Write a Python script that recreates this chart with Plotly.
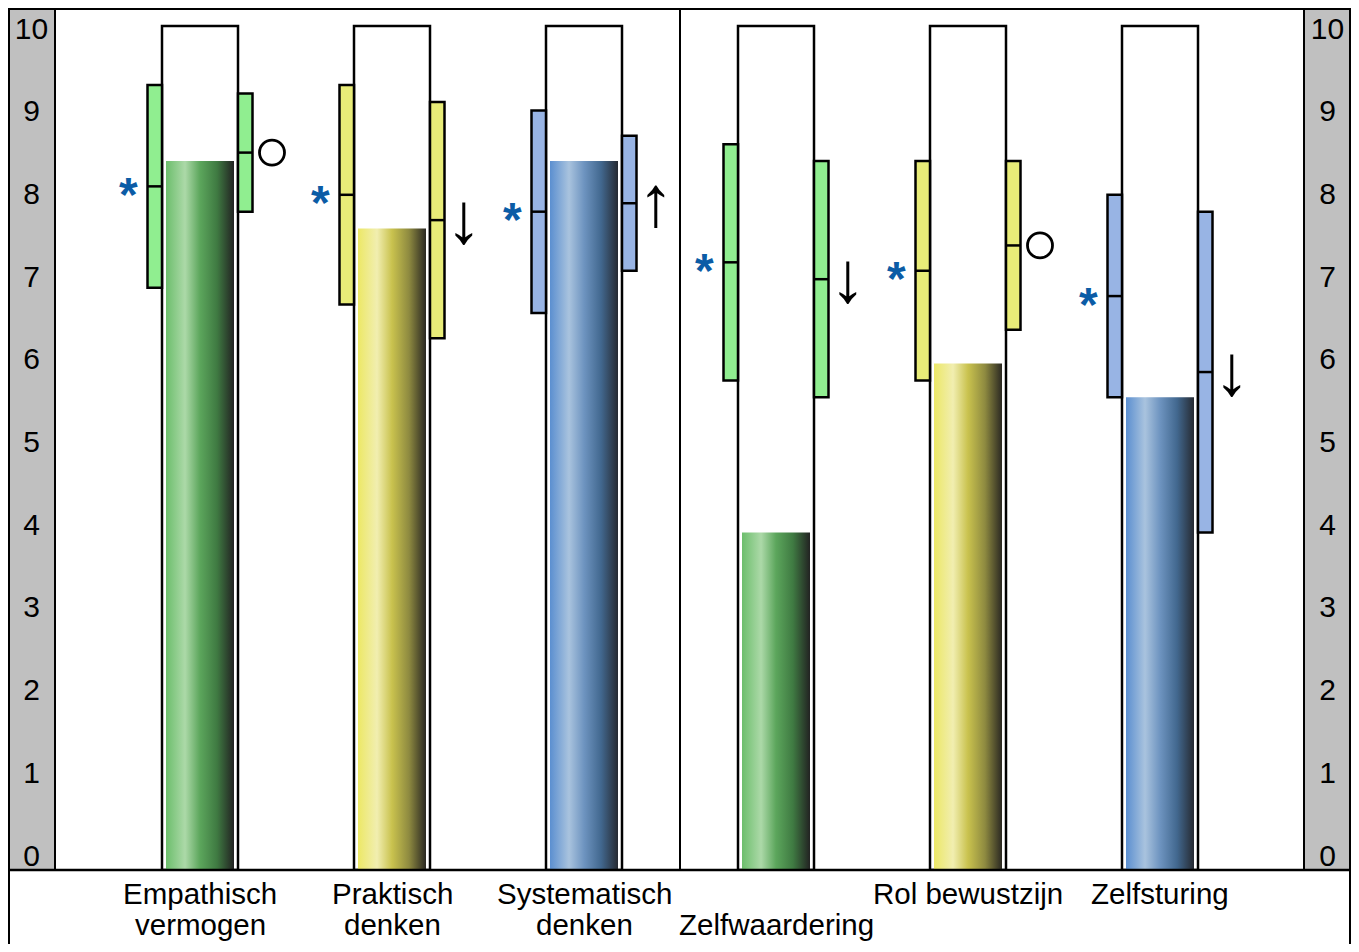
import plotly.graph_objects as go

# ---------------- data ----------------
categories = ["Empathisch vermogen", "Praktisch denken", "Systematisch denken",
              "Zelfwaardering", "Rol bewustzijn", "Zelfsturing"]
label_line1 = ["Empathisch", "Praktisch", "Systematisch", "", "Rol bewustzijn", "Zelfsturing"]
label_line2 = ["vermogen", "denken", "denken", "Zelfwaardering", "", ""]
scores = [8.4, 7.6, 8.4, 4.0, 6.0, 5.6]
left_low = [6.9, 6.7, 6.6, 5.8, 5.8, 5.6]
left_high = [9.3, 9.3, 9.0, 8.6, 8.4, 8.0]
left_mid = [8.1, 8.0, 7.8, 7.2, 7.1, 6.8]
right_low = [7.8, 6.3, 7.1, 5.6, 6.4, 4.0]
right_high = [9.2, 9.1, 8.7, 8.4, 8.4, 7.8]
right_mid = [8.5, 7.7, 7.9, 7.0, 7.4, 5.9]
trend = ["circle", "down", "up", "down", "circle", "down"]
family = ["green", "yellow", "blue", "green", "yellow", "blue"]
scale_max = 10
y_ticks = list(range(0, 11))

# ---------------- styles ----------------
FONT = "Liberation Sans, Arial, sans-serif"
box_fill = {"green": "#90EE90", "yellow": "#E8EC78", "blue": "#98B4E4"}
gradients = {
    "green": [[0, "#6cbe6c"], [0.28, "#acd9a8"], [0.5, "#5ca65c"], [0.75, "#3f7a42"], [1, "#222222"]],
    "yellow": [[0, "#ece866"], [0.28, "#f1eeb0"], [0.5, "#c9c24e"], [0.75, "#8e8a40"], [1, "#2a2822"]],
    "blue": [[0, "#5b8fd0"], [0.28, "#a9c3de"], [0.5, "#6e94c0"], [0.75, "#42688f"], [1, "#262a32"]],
}
STAR_COLOR = "#0b5ca6"

W, H = 1343, 936
B = 74                       # bottom margin (label band)
PH = H - B                   # plot height in px
CAT_PX = 192                 # px per category
FIRST_PX = 192               # px of first category centre
TOP_PX = 18                  # px from top where scale_max sits
px_per_unit = (PH - TOP_PX) / scale_max
x_range = [-FIRST_PX / CAT_PX, (W - FIRST_PX) / CAT_PX]
y_range = [0, PH / px_per_unit]
STRIP_PX = 47

# tick label scale (labels are spread slightly differently from the bars)
LBL_TOP_PX, LBL_STEP = 23, 82.7
y2_range = [scale_max - (PH - LBL_TOP_PX) / LBL_STEP, scale_max + LBL_TOP_PX / LBL_STEP]

cont_w = 76 / CAT_PX
bar_w = 68 / CAT_PX
box_w = 14.5 / CAT_PX
box_in = cont_w / 2
sym_dx = 72 / CAT_PX

xs = list(range(len(categories)))

fig = go.Figure()

# containers
fig.add_trace(go.Bar(x=xs, y=[scale_max] * len(xs), width=cont_w,
                     marker=dict(color="white", line=dict(color="black", width=2.5)),
                     hoverinfo="skip", showlegend=False))
# range boxes
for side, lo, hi in (("L", left_low, left_high), ("R", right_low, right_high)):
    off = -box_in - box_w if side == "L" else box_in
    fig.add_trace(go.Bar(x=xs, y=[h - l for l, h in zip(lo, hi)], base=lo,
                         width=box_w, offset=off,
                         marker=dict(color=[box_fill[f] for f in family],
                                     line=dict(color="black", width=2.5)),
                         hoverinfo="skip", showlegend=False))

# gradient score bars
for i, v in enumerate(scores):
    x0, x1 = i - bar_w / 2, i + bar_w / 2
    fig.add_trace(go.Scatter(x=[x0, x1, x1, x0, x0], y=[0, 0, v, v, 0], mode="lines",
                             fill="toself", line=dict(width=0, color="rgba(0,0,0,0)"),
                             fillgradient=dict(type="horizontal", colorscale=gradients[family[i]],
                                               start=x0, stop=x1),
                             hoverinfo="skip", showlegend=False))

# median lines
mx, my = [], []
for i in xs:
    mx += [i - box_in - box_w, i - box_in, None, i + box_in, i + box_in + box_w, None]
    my += [left_mid[i], left_mid[i], None, right_mid[i], right_mid[i], None]
fig.add_trace(go.Scatter(x=mx, y=my, mode="lines", line=dict(color="black", width=2.5),
                         hoverinfo="skip", showlegend=False))

# circles
cx = [i + sym_dx for i in xs if trend[i] == "circle"]
cy = [right_mid[i] for i in xs if trend[i] == "circle"]
fig.add_trace(go.Scatter(x=cx, y=cy, mode="markers",
                         marker=dict(symbol="circle-open", size=25, color="black",
                                     line=dict(width=2.8, color="black")),
                         hoverinfo="skip", showlegend=False))

annotations = []
# asterisks
for i in xs:
    annotations.append(dict(x=i - sym_dx, y=left_mid[i], xref="x", yref="y", text="<b>*</b>",
                            showarrow=False, yshift=-8,
                            font=dict(family=FONT, size=48, color=STAR_COLOR)))
# arrows
for i in xs:
    if trend[i] in ("up", "down"):
        annotations.append(dict(x=i + sym_dx, y=right_mid[i], xref="x", yref="y",
                                text="↓" if trend[i] == "down" else "↑",
                                showarrow=False, yshift=2,
                                font=dict(family=FONT, size=72, color="black")))
# category labels
for i in xs:
    for txt, ys in ((label_line1[i], -23), (label_line2[i], -54)):
        if txt:
            annotations.append(dict(x=i, y=0, xref="x", yref="paper", text=txt, showarrow=False,
                                    yanchor="middle", yshift=ys,
                                    font=dict(family=FONT, size=29.5, color="black")))

# y tick labels in gray strips (on their own scale)
lx = (STRIP_PX / 2 - FIRST_PX) / CAT_PX
rx = (W - STRIP_PX / 2 - FIRST_PX) / CAT_PX
for xpos in (lx, rx):
    fig.add_trace(go.Scatter(x=[xpos] * len(y_ticks), y=y_ticks, yaxis="y2", mode="text",
                             text=[str(t) for t in y_ticks],
                             textfont=dict(family=FONT, size=30, color="black"),
                             hoverinfo="skip", showlegend=False))

shapes = [
    dict(type="rect", xref="paper", yref="paper", x0=0, x1=STRIP_PX / W, y0=0, y1=1,
         fillcolor="#C0C0C0", line=dict(color="black", width=2), layer="below"),
    dict(type="rect", xref="paper", yref="paper", x0=1 - STRIP_PX / W, x1=1, y0=0, y1=1,
         fillcolor="#C0C0C0", line=dict(color="black", width=2), layer="below"),
    dict(type="line", xref="paper", yref="paper", x0=0, x1=1, y0=1 - 1 / PH, y1=1 - 1 / PH,
         line=dict(color="black", width=2)),
    dict(type="line", xref="paper", yref="paper", x0=1 / W, x1=1 / W, y0=-0.2, y1=1,
         line=dict(color="black", width=2)),
    dict(type="line", xref="paper", yref="paper", x0=1 - 1 / W, x1=1 - 1 / W, y0=-0.2, y1=1,
         line=dict(color="black", width=2)),
    dict(type="line", xref="paper", yref="paper", x0=0, x1=1, y0=0, y1=0,
         line=dict(color="black", width=2.5)),
    dict(type="line", xref="x", yref="paper", x0=(xs[2] + xs[3]) / 2, x1=(xs[2] + xs[3]) / 2,
         y0=0, y1=1, line=dict(color="black", width=2)),
]

fig.update_layout(
    width=W, height=H, margin=dict(l=0, r=0, t=0, b=B),
    barmode="overlay", paper_bgcolor="white", plot_bgcolor="rgba(0,0,0,0)",
    xaxis=dict(range=x_range, visible=False, fixedrange=True),
    yaxis=dict(range=y_range, visible=False, fixedrange=True),
    yaxis2=dict(range=y2_range, overlaying="y", visible=False, fixedrange=True),
    shapes=shapes, annotations=annotations, showlegend=False,
    font=dict(family=FONT),
)

fig.write_html("out.html")
